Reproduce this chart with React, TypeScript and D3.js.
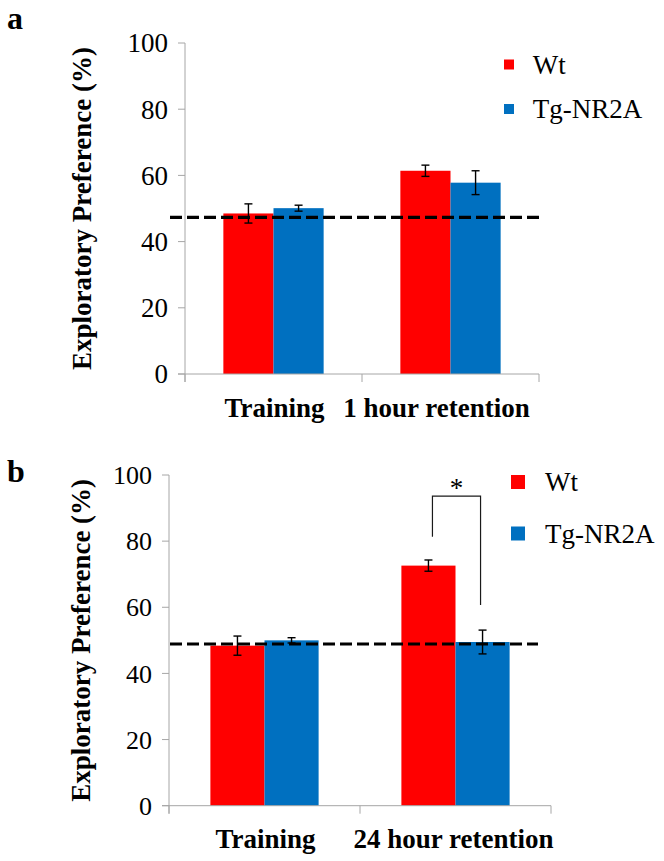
import React from "react";
import * as d3 from "d3";

const seriesNames = ["Wt", "Tg-NR2A"];
const seriesColors = ["#FF0000", "#0070C0"];
const yTicks = [0, 20, 40, 60, 80, 100];

// Panel a
const catsA = ["Training", "1 hour retention"];
const wtA = [48.5, 61.4];
const tgA = [50.1, 57.8];
const wtErrA = [2.9, 1.7];
const tgErrA = [0.9, 3.6];
const chanceA = 47.3;

// Panel b
const catsB = ["Training", "24 hour retention"];
const wtB = [48.4, 72.6];
const tgB = [50.0, 49.5];
const wtErrB = [2.9, 1.7];
const tgErrB = [0.8, 3.6];
const chanceB = 48.9;
// significance bracket (panel b, category 2): top, left foot, right foot values
const bracketB = { cat: 1, top: 93.6, leftFoot: 81.3, rightFoot: 60.7, label: "*" };

const FONT = "'Liberation Serif', 'Times New Roman', 'DejaVu Serif', serif";

type PanelProps = {
  letter: string;
  letterY: number;
  cats: string[];
  wt: number[];
  tg: number[];
  wtErr: number[];
  tgErr: number[];
  chance: number;
  x0: number;
  x1: number;
  yTop: number;
  yBottom: number;
  tickFont: number;
  labelOffsets: number[];
  labelBaseline: number;
  yLabelX: number;
  legendX: number;
  legendYs: number[];
  legendSq: number;
  legendGap: number;
  chanceX0: number;
  chanceX1: number;
  bracket?: typeof bracketB;
};

function Panel(p: PanelProps) {
  const y = d3.scaleLinear().domain([0, 100]).range([p.yBottom, p.yTop]);
  const x = d3.scaleBand<string>().domain(p.cats).range([p.x0, p.x1]).paddingInner(0).paddingOuter(0);
  const bw = x.bandwidth();
  const xs = d3.scaleBand<string>().domain(seriesNames).range([0, bw]).paddingInner(0).paddingOuter(0.765);
  const vals = [p.wt, p.tg];
  const errs = [p.wtErr, p.tgErr];
  const axisColor = "#a6a6a6";
  const capW = 4;
  const yMid = (p.yTop + p.yBottom) / 2;
  const serif = { fontFamily: FONT };

  const barCenter = (ci: number, si: number) => (x(p.cats[ci]) as number) + (xs(seriesNames[si]) as number) + xs.bandwidth() / 2;

  return (
    <g>
      <text x={7} y={p.letterY} style={serif} fontWeight="bold" fontSize={32}>{p.letter}</text>
      {/* bars */}
      {p.cats.map((c, ci) =>
        seriesNames.map((s, si) => (
          <rect key={c + s} x={(x(c) as number) + (xs(s) as number)} y={y(vals[si][ci])}
            width={xs.bandwidth()} height={y(0) - y(vals[si][ci])} fill={seriesColors[si]} />
        ))
      )}
      {/* axes */}
      <line x1={p.x0} x2={p.x0} y1={y(100)} y2={y(0) + 8} stroke={axisColor} strokeWidth={1} />
      <line x1={p.x0 - 7} x2={p.x1} y1={y(0)} y2={y(0)} stroke={axisColor} strokeWidth={1} />
      {yTicks.map((t) => (
        <g key={t}>
          <line x1={p.x0 - 7} x2={p.x0} y1={y(t)} y2={y(t)} stroke={axisColor} strokeWidth={1} />
          <text x={p.x0 - 17} y={y(t)} dy="0.35em" textAnchor="end" style={serif} fontSize={p.tickFont}>{t}</text>
        </g>
      ))}
      {[...p.cats.map((c) => x(c) as number), p.x1].map((v, i) => (
        <line key={i} x1={v} x2={v} y1={y(0)} y2={y(0) + 8} stroke={axisColor} strokeWidth={1} />
      ))}
      {/* category labels */}
      {p.cats.map((c, ci) => (
        <text key={c} x={(x(c) as number) + bw / 2 + p.labelOffsets[ci]} y={p.labelBaseline}
          textAnchor="middle" style={serif} fontWeight="bold" fontSize={27}>{c}</text>
      ))}
      {/* y label */}
      <text transform={`translate(${p.yLabelX},${yMid}) rotate(-90)`} textAnchor="middle"
        style={serif} fontWeight="bold" fontSize={27}>Exploratory Preference (%)</text>
      {/* chance line */}
      <line x1={p.chanceX0} x2={p.chanceX1} y1={y(p.chance)} y2={y(p.chance)} stroke="#000"
        strokeWidth={3.2} strokeDasharray="12,5" />
      {/* error bars */}
      {p.cats.map((c, ci) =>
        seriesNames.map((s, si) => {
          const cx = barCenter(ci, si);
          const hi = y(vals[si][ci] + errs[si][ci]);
          const lo = y(vals[si][ci] - errs[si][ci]);
          return (
            <g key={"e" + c + s} stroke="#000" strokeWidth={1.4}>
              <line x1={cx} x2={cx} y1={hi} y2={lo} />
              <line x1={cx - capW} x2={cx + capW} y1={hi} y2={hi} />
              <line x1={cx - capW} x2={cx + capW} y1={lo} y2={lo} />
            </g>
          );
        })
      )}
      {/* bracket */}
      {p.bracket && (() => {
        const b = p.bracket!;
        const lx = barCenter(b.cat, 0) + 4;
        const rx = barCenter(b.cat, 1) - 2;
        return (
          <g>
            <path d={`M${lx},${y(b.leftFoot)}V${y(b.top)}H${rx}V${y(b.rightFoot)}`} fill="none" stroke="#1a1a1a" strokeWidth={1.2} />
            <text x={(lx + rx) / 2} y={y(b.top) + 1} textAnchor="middle" style={serif} fontSize={27}>{b.label}</text>
          </g>
        );
      })()}
      {/* legend */}
      {seriesNames.map((s, si) => (
        <g key={"l" + s}>
          <rect x={p.legendX} y={p.legendYs[si] - p.legendSq / 2} width={p.legendSq} height={p.legendSq} fill={seriesColors[si]} />
          <text x={p.legendX + p.legendGap} y={p.legendYs[si]} dy="0.35em" style={serif} fontSize={27}>{s}</text>
        </g>
      ))}
    </g>
  );
}

export default function App() {
  return (
    <svg width={664} height={861} style={{ position: "absolute", left: 0, top: 0, background: "#fff" }}>
      <rect width={664} height={861} fill="#fff" />
      <Panel letter="a" letterY={29} cats={catsA} wt={wtA} tg={tgA} wtErr={wtErrA} tgErr={tgErrA}
        chance={chanceA} x0={185} x1={539} yTop={43} yBottom={374} tickFont={27}
        labelOffsets={[1, -14]} labelBaseline={416.5} yLabelX={91} legendX={504}
        legendYs={[64.5, 109]} legendSq={10} legendGap={28.7} chanceX0={170} chanceX1={540} />
      <Panel letter="b" letterY={482} cats={catsB} wt={wtB} tg={tgB} wtErr={wtErrB} tgErr={tgErrB}
        chance={chanceB} x0={169} x1={551} yTop={475} yBottom={805.7} tickFont={26}
        labelOffsets={[1, -2]} labelBaseline={848} yLabelX={90} legendX={511}
        legendYs={[482, 533.5]} legendSq={14} legendGap={34} chanceX0={170} chanceX1={538} bracket={bracketB} />
    </svg>
  );
}
